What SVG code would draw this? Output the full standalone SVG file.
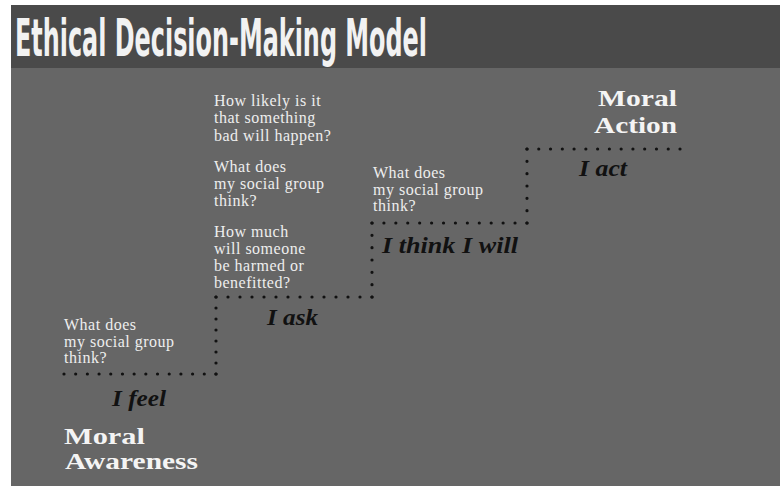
<svg xmlns="http://www.w3.org/2000/svg" width="780" height="486" viewBox="0 0 780 486">
<style>
.q{font-family:"Liberation Serif","Times New Roman",serif;font-size:16px;letter-spacing:0.5px;fill:#eeeeee}
.lab{font-family:"Liberation Serif","Times New Roman",serif;font-size:24px;font-weight:bold;font-style:italic;fill:#111}
.big{font-family:"Liberation Serif","Times New Roman",serif;font-size:24px;font-weight:bold;fill:#f4f4f4}
.dot{fill:none;stroke:#111;stroke-width:3.2;stroke-linecap:round}
</style>
<rect width="780" height="486" fill="#ffffff"/>
<rect x="11" y="5" width="769" height="481" fill="#666666"/>
<rect x="11" y="5" width="769" height="63" fill="#4a4a4a"/>
<g id="title">
<text x="15" y="56" font-family="'DejaVu Sans Condensed','Liberation Sans Narrow','Liberation Sans',sans-serif" font-stretch="condensed" font-weight="bold" font-size="52" fill="#f2f2f2" textLength="412" lengthAdjust="spacingAndGlyphs">Ethical Decision-Making Model</text>
</g>
<g id="connectors">
<path class="dot" d="M64 374H216.5" stroke-dasharray="0 11.69"/>
<path class="dot" d="M216 374V296.5" stroke-dasharray="0 11"/>
<path class="dot" d="M216 297H372.5" stroke-dasharray="0 12"/>
<path class="dot" d="M372 297V222.5" stroke-dasharray="0 12.33"/>
<path class="dot" d="M372 223H527.5" stroke-dasharray="0 11.92"/>
<path class="dot" d="M527 223V148.5" stroke-dasharray="0 12.33"/>
<path class="dot" d="M527 149H680.5" stroke-dasharray="0 11.77"/>
</g>
<g id="step-feel">
<text class="q" x="64" y="330">What does</text>
<text class="q" x="64" y="346.5">my social group</text>
<text class="q" x="64" y="363">think?</text>
<text class="lab" x="112" y="406" textLength="54" lengthAdjust="spacingAndGlyphs">I feel</text>
<text class="big" x="64" y="444" textLength="81" lengthAdjust="spacingAndGlyphs">Moral</text>
<text class="big" x="65" y="469" textLength="133" lengthAdjust="spacingAndGlyphs">Awareness</text>
</g>
<g id="step-ask">
<text class="q" x="214" y="106">How likely is it</text>
<text class="q" x="214" y="123">that something</text>
<text class="q" x="214" y="141">bad will happen?</text>
<text class="q" x="214" y="172">What does</text>
<text class="q" x="214" y="189">my social group</text>
<text class="q" x="214" y="206">think?</text>
<text class="q" x="214" y="237">How much</text>
<text class="q" x="214" y="254">will someone</text>
<text class="q" x="214" y="271">be harmed or</text>
<text class="q" x="214" y="288">benefitted?</text>
<text class="lab" x="267" y="325" textLength="51" lengthAdjust="spacingAndGlyphs">I ask</text>
</g>
<g id="step-think">
<text class="q" x="373" y="178">What does</text>
<text class="q" x="373" y="195">my social group</text>
<text class="q" x="373" y="211">think?</text>
<text class="lab" x="382" y="253" textLength="136" lengthAdjust="spacingAndGlyphs">I think I will</text>
</g>
<g id="step-act">
<text class="big" x="677" y="106" text-anchor="end" textLength="79" lengthAdjust="spacingAndGlyphs">Moral</text>
<text class="big" x="677" y="133" text-anchor="end" textLength="83" lengthAdjust="spacingAndGlyphs">Action</text>
<text class="lab" x="579" y="176" textLength="48" lengthAdjust="spacingAndGlyphs">I act</text>
</g>
</svg>
